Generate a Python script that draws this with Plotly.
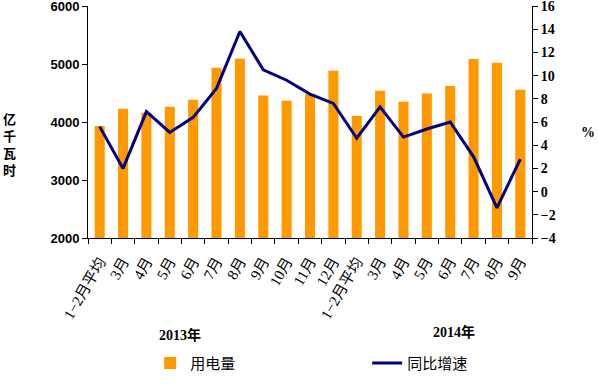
import plotly.graph_objects as go

categories = ["1-2月平均", "3月", "4月", "5月", "6月", "7月", "8月", "9月", "10月", "11月", "12月",
              "1-2月平均 ", "3月 ", "4月 ", "5月 ", "6月 ", "7月 ", "8月 ", "9月 "]
tick_labels = ["1−2月平均", "3月", "4月", "5月", "6月", "7月", "8月", "9月", "10月", "11月", "12月",
               "1−2月平均", "3月", "4月", "5月", "6月", "7月", "8月", "9月"]
consumption = [3930, 4230, 4160, 4265, 4385, 4935, 5090, 4455, 4365, 4480, 4885,
               4105, 4540, 4350, 4490, 4620, 5085, 5020, 4555]
growth = [5.6, 2.0, 6.9, 5.1, 6.4, 8.9, 13.8, 10.5, 9.6, 8.4, 7.6,
          4.6, 7.3, 4.7, 5.4, 6.0, 3.0, -1.4, 2.8]
left_ticks = [2000, 3000, 4000, 5000, 6000]
right_ticks = [-4, -2, 0, 2, 4, 6, 8, 10, 12, 14, 16]
right_tick_text = ["−4", "−2", "0", "2", "4", "6", "8", "10", "12", "14", "16"]
year_labels = ["2013年", "2014年"]
series_names = ["用电量", "同比增速"]

serif = "Liberation Serif, Times New Roman, Noto Sans CJK SC, serif"
sans = "Liberation Sans, Arial, Noto Sans CJK SC, sans-serif"

fig = go.Figure()
fig.add_trace(go.Bar(x=categories, y=consumption, name=series_names[0],
                     marker=dict(color="#FF9900", line=dict(width=0)), yaxis="y"))
fig.add_trace(go.Scatter(x=categories, y=growth, name=series_names[1], mode="lines",
                         line=dict(color="#000080", width=3), yaxis="y2"))

fig.update_layout(
    width=598, height=385,
    margin=dict(l=88, r=66, t=6, b=147, autoexpand=False),
    plot_bgcolor="white", paper_bgcolor="white",
    bargap=0.57,
    showlegend=True,
    legend=dict(orientation="h", x=0.14, y=-0.54, xanchor="left", yanchor="middle",
                entrywidth=172, entrywidthmode="pixels",
                font=dict(family=sans, size=15, color="black"), bgcolor="rgba(0,0,0,0)"),
    xaxis=dict(type="category", tickmode="array", tickvals=categories, ticktext=tick_labels,
               tickangle=-60, tickson="boundaries", ticks="outside", ticklen=5,
               ticklabelstandoff=8,
               tickcolor="black", showline=True, linecolor="black", linewidth=1,
               showgrid=False, automargin=False,
               tickfont=dict(family=serif, size=15, color="black")),
    yaxis=dict(range=[2000, 6000], tickmode="array", tickvals=left_ticks,
               ticks="outside", ticklen=5, tickcolor="black", automargin=False,
               ticklabeloverflow="allow",
               showline=True, linecolor="black", linewidth=1, showgrid=False, zeroline=False,
               tickfont=dict(family=sans, size=13, color="black", weight="bold")),
    yaxis2=dict(range=[-4, 16], tickmode="array", tickvals=right_ticks, ticktext=right_tick_text,
                overlaying="y", side="right", ticks="outside", automargin=False,
                ticklabeloverflow="allow",
                ticklen=5, tickcolor="black", showline=True, linecolor="black", linewidth=1,
                showgrid=False, zeroline=False,
                tickfont=dict(family=serif, size=14, color="black", weight="bold")),
    annotations=[
        dict(text="<b>亿<br>千<br>瓦<br>时</b>", x=-0.176, y=0.40, xref="paper", yref="paper",
             xanchor="center", yanchor="middle",
             showarrow=False, font=dict(family=sans, size=13, color="black")),
        dict(text="%", x=1.126, y=0.453, xref="paper", yref="paper", showarrow=False,
             xanchor="center", yanchor="middle",
             font=dict(family=serif, size=14, color="black", weight="bold")),
        dict(text=year_labels[0], x=0.207, y=-0.418, xref="paper", yref="paper",
             xanchor="center", yanchor="middle",
             showarrow=False, font=dict(family=serif, size=14, color="black", weight="bold")),
        dict(text=year_labels[1], x=0.825, y=-0.405, xref="paper", yref="paper",
             xanchor="center", yanchor="middle",
             showarrow=False, font=dict(family=serif, size=14, color="black", weight="bold")),
    ],
)

fig.write_html("out.html", config={"displayModeBar": False},
               post_script="document.body.style.margin='0';document.body.style.overflow='hidden';")
